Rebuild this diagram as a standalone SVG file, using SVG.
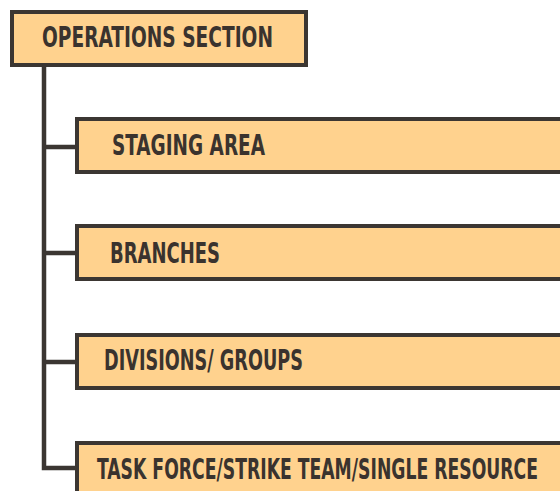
<svg xmlns="http://www.w3.org/2000/svg" width="560" height="491" viewBox="0 0 560 491">
  <style>
    .box { fill: #FFD28E; stroke: #3b3632; stroke-width: 4; }
    .lbl { font-family: "DejaVu Sans Condensed", "Liberation Sans", sans-serif; font-weight: bold; font-size: 29px; fill: #3a332e; }
    .wire { fill: none; stroke: #3b3632; stroke-width: 4.5; }
  </style>
  <rect width="560" height="491" fill="#ffffff"/>

  <g id="connectors">
    <path class="wire" d="M44,67 V468 H77"/>
    <path class="wire" d="M44,147 H77"/>
    <path class="wire" d="M44,253 H77"/>
    <path class="wire" d="M44,362 H77"/>
  </g>

  <g id="operations-section">
    <rect class="box" x="12" y="12" width="294" height="53"/>
    <text class="lbl" x="42" y="47" textLength="231" lengthAdjust="spacingAndGlyphs">OPERATIONS SECTION</text>
  </g>

  <g id="staging-area">
    <rect class="box" x="77" y="119" width="500" height="53"/>
    <text class="lbl" x="112" y="155" textLength="153" lengthAdjust="spacingAndGlyphs">STAGING AREA</text>
  </g>

  <g id="branches">
    <rect class="box" x="77" y="226" width="500" height="53"/>
    <text class="lbl" x="110" y="263" textLength="110" lengthAdjust="spacingAndGlyphs">BRANCHES</text>
  </g>

  <g id="divisions-groups">
    <rect class="box" x="77" y="335" width="500" height="53"/>
    <text class="lbl" x="104" y="370" textLength="199" lengthAdjust="spacingAndGlyphs">DIVISIONS/ GROUPS</text>
  </g>

  <g id="task-force">
    <rect class="box" x="77" y="443" width="500" height="60"/>
    <text class="lbl" x="97" y="479" textLength="441" lengthAdjust="spacingAndGlyphs">TASK FORCE/STRIKE TEAM/SINGLE RESOURCE</text>
  </g>
</svg>
